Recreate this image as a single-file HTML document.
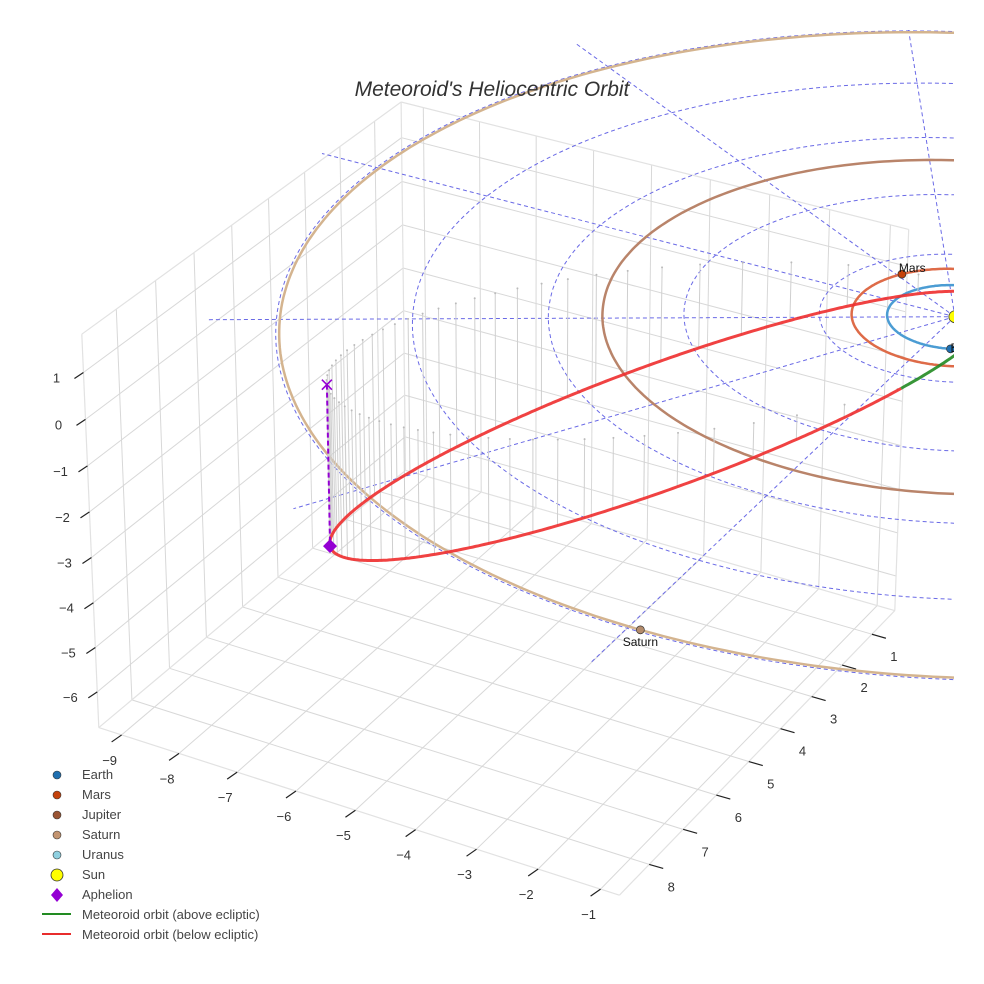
<!DOCTYPE html>
<html><head><meta charset="utf-8">
<style>
html,body{margin:0;padding:0;background:#fff;}
svg{display:block;font-family:"Liberation Sans",Arial,sans-serif;}
</style></head>
<body>
<svg id="chart" width="984" height="984" viewBox="0 0 984 984" xmlns="http://www.w3.org/2000/svg">
<defs><clipPath id="plotClip"><rect x="0" y="30" width="954" height="954"/></clipPath></defs>
<rect x="0" y="0" width="984" height="984" fill="#fff"/>
<g id="grid"></g>
<g id="ticks"></g>
<g id="scene" clip-path="url(#plotClip)"></g>
<text x="492" y="96" text-anchor="middle" font-size="21" font-style="italic" fill="#333">Meteoroid's Heliocentric Orbit</text>
<g id="legend" font-size="13" fill="#444">
  <g><circle cx="57" cy="775" r="4" fill="#1f6fb0" stroke="#333" stroke-width="0.6"/><text x="82" y="779">Earth</text></g>
  <g><circle cx="57" cy="795" r="4" fill="#c4420c" stroke="#333" stroke-width="0.6"/><text x="82" y="799">Mars</text></g>
  <g><circle cx="57" cy="815" r="4" fill="#9a5534" stroke="#333" stroke-width="0.6"/><text x="82" y="819">Jupiter</text></g>
  <g><circle cx="57" cy="835" r="4" fill="#c39470" stroke="#333" stroke-width="0.6"/><text x="82" y="839">Saturn</text></g>
  <g><circle cx="57" cy="855" r="4" fill="#8fd0e0" stroke="#333" stroke-width="0.6"/><text x="82" y="859">Uranus</text></g>
  <g><circle cx="57" cy="875" r="6" fill="#ffff00" stroke="#333" stroke-width="0.8"/><text x="82" y="879">Sun</text></g>
  <g><path d="M57 888 L63 895 L57 902 L51 895 Z" fill="#9400d3"/><text x="82" y="899">Aphelion</text></g>
  <g><line x1="42" y1="914" x2="71" y2="914" stroke="#228b22" stroke-width="2"/><text x="82" y="919">Meteoroid orbit (above ecliptic)</text></g>
  <g><line x1="42" y1="934" x2="71" y2="934" stroke="#e82c2c" stroke-width="2"/><text x="82" y="939">Meteoroid orbit (below ecliptic)</text></g>
</g>
</svg>
<script>
// ---- data ----
const xTicks = [-9, -8, -7, -6, -5, -4, -3, -2, -1];
const yTicks = [1, 2, 3, 4, 5, 6, 7, 8];
const zTicks = [-6, -5, -4, -3, -2, -1, 0, 1];
const xRange = [-9.4, -0.7];
const yRange = [0.22, 8.86];
const zRange = [-6.81, 1.81];
const planetNames = ['Earth', 'Mars', 'Jupiter', 'Saturn', 'Uranus'];
const planetA = [1.0, 1.524, 5.203, 9.95, 19.19];
const planetLon = [68, 213, 20, 89, 300];
const planetShown = [true, true, false, true, false];
const orbitShown = [true, true, true, true, false];
const ringRadii = [2, 4, 6, 8, 10];
const spokeAngles = [0, 30, 60, 90, 120, 150, 180, 210, 240, 270, 300, 330];
const meteorPerihelion = 0.65;
const meteorAphelion = 10.05;
const meteorAphLon = 137.8;
const meteorAphLat = -20.7;
const meteorTilt = -14;

// ---- camera calibration (screen correspondences of box corners) ----
const NS = 'http://www.w3.org/2000/svg';
const cal3 = [[xRange[0],yRange[0],zRange[0]],[xRange[0],yRange[1],zRange[0]],[xRange[1],yRange[1],zRange[0]],[xRange[1],yRange[0],zRange[0]],
  [xRange[0],yRange[1],zRange[1]],[xRange[0],yRange[0],zRange[1]],[xRange[1],yRange[0],zRange[1]],[0,0,0]];
const cal2 = [[405,470],[99,727],[620,895],[895,612],[81,335],[402,102],[910,230],[953,315]];
function solveCam(){
  const rows=[], rhs=[];
  for(let i=0;i<cal3.length;i++){
    const [X,Y,Z]=cal3[i]; const u=cal2[i][0]/1000, v=cal2[i][1]/1000;
    rows.push([X,Y,Z,1,0,0,0,0,-u*X,-u*Y,-u*Z]); rhs.push(u);
    rows.push([0,0,0,0,X,Y,Z,1,-v*X,-v*Y,-v*Z]); rhs.push(v);
  }
  const n=11; const A=[];
  for(let i=0;i<n;i++){A.push(new Array(n+1).fill(0));}
  for(let r=0;r<rows.length;r++){for(let i=0;i<n;i++){for(let j=0;j<n;j++)A[i][j]+=rows[r][i]*rows[r][j];A[i][n]+=rows[r][i]*rhs[r];}}
  for(let c=0;c<n;c++){
    let piv=c; for(let r=c+1;r<n;r++) if(Math.abs(A[r][c])>Math.abs(A[piv][c])) piv=r;
    const t=A[c];A[c]=A[piv];A[piv]=t;
    for(let r=0;r<n;r++){ if(r===c) continue; const f=A[r][c]/A[c][c]; for(let k=c;k<=n;k++) A[r][k]-=f*A[c][k]; }
  }
  return A.map((row,i)=>row[n]/row[i]);
}
const P = solveCam();
function proj(x,y,z){
  const d=P[8]*x+P[9]*y+P[10]*z+1;
  return [1000*(P[0]*x+P[1]*y+P[2]*z+P[3])/d, 1000*(P[4]*x+P[5]*y+P[6]*z+P[7])/d];
}
function pathOf(pts){ return pts.map((p,i)=>{const s=proj(p[0],p[1],p[2]);return (i?'L':'M')+s[0].toFixed(1)+' '+s[1].toFixed(1);}).join(' '); }
function mk(tag, attrs, parent){ const el=document.createElementNS(NS,tag); for(const k in attrs) el.setAttribute(k,attrs[k]); parent.appendChild(el); return el; }

const grid=document.getElementById('grid'), ticks=document.getElementById('ticks'), scene=document.getElementById('scene');
const gcol='#d8d8d8';
yTicks.forEach(y=>{ const l=mk('path',{d:pathOf([[xRange[0],y,zRange[0]],[xRange[0],y,zRange[1]]]),stroke:gcol,'stroke-width':1,fill:'none'},grid);
    });
zTicks.forEach(z=>{ const l=mk('path',{d:pathOf([[xRange[0],yRange[0],z],[xRange[0],yRange[1],z]]),stroke:gcol,'stroke-width':1,fill:'none'},grid);
   
  const m=mk('path',{d:pathOf([[xRange[0],yRange[0],z],[xRange[1],yRange[0],z]]),stroke:gcol,'stroke-width':1,fill:'none'},grid);
    });
xTicks.forEach(x=>{ const l=mk('path',{d:pathOf([[x,yRange[0],zRange[0]],[x,yRange[0],zRange[1]]]),stroke:gcol,'stroke-width':1,fill:'none'},grid);
   
  const f=mk('path',{d:pathOf([[x,yRange[0],zRange[0]],[x,yRange[1],zRange[0]]]),stroke:gcol,'stroke-width':1,fill:'none'},grid);
    });
yTicks.forEach(y=>{ const f=mk('path',{d:pathOf([[xRange[0],y,zRange[0]],[xRange[1],y,zRange[0]]]),stroke:gcol,'stroke-width':1,fill:'none'},grid);
    });
const X0=xRange[0],X1=xRange[1],Y0=yRange[0],Y1=yRange[1],Z0=zRange[0],Z1=zRange[1];
[[[X0,Y1,Z0],[X1,Y1,Z0]],[[X1,Y1,Z0],[X1,Y0,Z0]],[[X0,Y1,Z0],[X0,Y1,Z1]],[[X0,Y1,Z1],[X0,Y0,Z1]],[[X0,Y0,Z1],[X1,Y0,Z1]],[[X1,Y0,Z0],[X1,Y0,Z1]],[[X0,Y0,Z0],[X0,Y0,Z1]],[[X0,Y0,Z0],[X0,Y1,Z0]],[[X0,Y0,Z0],[X1,Y0,Z0]]].forEach(e=>{
  const l=mk('path',{d:pathOf(e),stroke:'#e2e2e2','stroke-width':1.2,fill:'none'},grid);
    });

function tickAndLabel(p, dx, dy, lx, ly, txt, name){
  const s=proj(p[0],p[1],p[2]);
  const t=mk('line',{x1:s[0],y1:s[1],x2:s[0]+dx,y2:s[1]+dy,stroke:'#222','stroke-width':1.2},ticks);
   
  const lab=mk('text',{x:s[0]+lx,y:s[1]+ly,'text-anchor':'middle','font-size':13,fill:'#333'},ticks);
  lab.textContent=txt;
   
}
const fmt=v=>String(v).replace('-','\u2212');
xTicks.forEach(x=>tickAndLabel([x,Y1,Z0],-10,7,-12,30,fmt(x),'x-axis'));
yTicks.forEach(y=>tickAndLabel([X1,y,Z0],14,4,22,27,fmt(y),'y-axis'));
zTicks.forEach(z=>tickAndLabel([X0,Y1,z],-9,6,-27,10,fmt(z),'z-axis'));

ringRadii.forEach(r=>{ const pts=[]; for(let i=0;i<=240;i++){const a=i/240*2*Math.PI; pts.push([r*Math.cos(a),r*Math.sin(a),0]);}
  const c=mk('path',{d:pathOf(pts),stroke:'#6a6ae6','stroke-width':1,'stroke-dasharray':'4 3',fill:'none'},scene);
    });
spokeAngles.forEach(a=>{ const t=a*Math.PI/180;
  const s=mk('path',{d:pathOf([[0,0,0],[11*Math.cos(t),11*Math.sin(t),0]]),stroke:'#6a6ae6','stroke-width':1,'stroke-dasharray':'4 3',fill:'none'},scene);
    });

const orbitColors=['#4b9cd3','#de6b48','#b9846a','#d4b48f','#9fd6e6'];
const markColors=['#1f6fb0','#c4420c','#9a5534','#b48c6c','#8fd0e0'];
planetNames.forEach((nm,i)=>{ if(!orbitShown[i]) return;
  const r=planetA[i]; const pts=[]; for(let k=0;k<=360;k++){const t=k*Math.PI/180; pts.push([r*Math.cos(t),r*Math.sin(t),0]);}
  const o=mk('path',{d:pathOf(pts),stroke:orbitColors[i],'stroke-width':2.5,fill:'none'},scene);
   
});

// meteoroid orbit
const aphLonR=meteorAphLon*Math.PI/180, aphLatR=meteorAphLat*Math.PI/180;
const u=[Math.cos(aphLatR)*Math.cos(aphLonR),Math.cos(aphLatR)*Math.sin(aphLonR),Math.sin(aphLatR)];
let h=[u[1],-u[0],0]; const hn=Math.hypot(h[0],h[1]); h=[h[0]/hn,h[1]/hn,0];
const w=[u[1]*h[2]-u[2]*h[1], u[2]*h[0]-u[0]*h[2], u[0]*h[1]-u[1]*h[0]];
const tr=meteorTilt*Math.PI/180;
const v=[Math.cos(tr)*h[0]+Math.sin(tr)*w[0], Math.cos(tr)*h[1]+Math.sin(tr)*w[1], Math.cos(tr)*h[2]+Math.sin(tr)*w[2]];
const ma=(meteorPerihelion+meteorAphelion)/2, me=(meteorAphelion-meteorPerihelion)/(meteorAphelion+meteorPerihelion), mb=ma*Math.sqrt(1-me*me);
function meteorAt(E){ const xp=ma*(Math.cos(E)-me), yp=mb*Math.sin(E); return [-u[0]*xp+v[0]*yp,-u[1]*xp+v[1]*yp,-u[2]*xp+v[2]*yp]; }
for(let k=0;k<60;k++){
  const M=k/60*2*Math.PI; let E=M; for(let it=0;it<30;it++) E=E-(E-me*Math.sin(E)-M)/(1-me*Math.cos(E));
  const p=meteorAt(E); if(p[2]>=0) continue;
  const d=mk('path',{d:pathOf([p,[p[0],p[1],0]]),stroke:'#cfcfcf','stroke-width':1,fill:'none'},scene);
   
  const s=proj(p[0],p[1],0);
  const dot=mk('circle',{cx:s[0],cy:s[1],r:1,fill:'#bbb'},scene);
   
}
let seg=[]; let segAbove=null; const segs=[];
for(let i=0;i<=600;i++){ const p=meteorAt(i/600*2*Math.PI); const ab=p[2]>=0;
  if(segAbove===null) segAbove=ab;
  if(ab!==segAbove){ seg.push(p); segs.push([segAbove,seg]); seg=[p]; segAbove=ab; } else seg.push(p); }
segs.push([segAbove,seg]);
segs.forEach(sg=>{ const o=mk('path',{d:pathOf(sg[1]),stroke:sg[0]?'#228b22':'#ee2d2d','stroke-width':3,fill:'none','stroke-opacity':0.9},scene);
    });

const aph=meteorAt(Math.PI); const aS=proj(aph[0],aph[1],aph[2]); const aP=proj(aph[0],aph[1],0);
const al=mk('line',{x1:aP[0],y1:aP[1],x2:aS[0],y2:aS[1],stroke:'#9400d3','stroke-width':2,'stroke-dasharray':'5 3'},scene);
 
const xm=mk('path',{d:`M${aP[0]-5} ${aP[1]-5} L${aP[0]+5} ${aP[1]+5} M${aP[0]+5} ${aP[1]-5} L${aP[0]-5} ${aP[1]+5}`,stroke:'#9400d3','stroke-width':1.6,fill:'none'},scene);
 
const dm=mk('path',{d:`M${aS[0]} ${aS[1]-7} L${aS[0]+7} ${aS[1]} L${aS[0]} ${aS[1]+7} L${aS[0]-7} ${aS[1]} Z`,fill:'#9400d3'},scene);
 

planetNames.forEach((nm,i)=>{ if(!planetShown[i]) return;
  const r=planetA[i], t=planetLon[i]*Math.PI/180; const s=proj(r*Math.cos(t),r*Math.sin(t),0);
  const c=mk('circle',{cx:s[0],cy:s[1],r:4,fill:markColors[i],stroke:'#333','stroke-width':0.7},scene);
   
  const lab=mk('text',{'font-size':12,fill:'#111'},scene);
  if(nm==='Saturn'){ lab.setAttribute('x',s[0]); lab.setAttribute('y',s[1]+16); lab.setAttribute('text-anchor','middle'); }
  else if(nm==='Earth'){ lab.setAttribute('x',s[0]); lab.setAttribute('y',s[1]+3); }
  else { lab.setAttribute('x',s[0]-3); lab.setAttribute('y',s[1]-2); }
  lab.textContent=nm;
   
});
const sunS=proj(0,0,0);
const sun=mk('circle',{cx:sunS[0],cy:sunS[1],r:6,fill:'#ffff00',stroke:'#333','stroke-width':0.8},scene);
 
</script>
</body></html>
